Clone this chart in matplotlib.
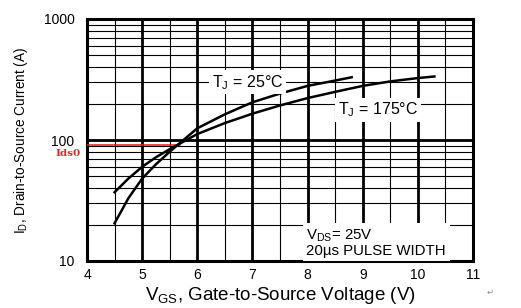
import matplotlib
matplotlib.use("Agg")
import matplotlib.pyplot as plt
import matplotlib.transforms as mtransforms
from matplotlib.ticker import FixedLocator, NullFormatter

plt.rcParams["font.family"] = ["Liberation Sans", "DejaVu Sans"]
plt.rcParams["mathtext.default"] = "regular"

# transfer characteristics
vgs_25 = [4.5, 4.75, 5.0, 5.25, 5.5, 5.75, 6.0, 6.5, 7.0, 7.5, 8.0, 8.5, 8.8]
id_25 = [20.5, 33, 48, 63, 80, 100, 125, 163, 205, 242, 280, 310, 330]
vgs_175 = [4.5, 4.75, 5.0, 5.25, 5.5, 5.75, 6.0, 6.5, 7.0, 7.5, 8.0, 8.5, 9.0, 9.5, 10.0, 10.3]
id_175 = [37, 48, 60, 72, 84, 97, 112, 138, 165, 193, 222, 250, 280, 305, 325, 335]
idsx = 91.5
vgs_cross = 5.69

x_ticks = [4, 5, 6, 7, 8, 9, 10, 11]
y_ticks = [10, 100, 1000]

fig = plt.figure(figsize=(5.21, 3.08), dpi=100)
ax = fig.add_axes([87 / 521, 1 - 261 / 308, 386 / 521, 242 / 308])

ax.set_yscale("log")
ax.set_xlim(4, 11)
ax.set_ylim(10, 1000)

ax.xaxis.set_major_locator(FixedLocator(x_ticks))
ax.xaxis.set_minor_locator(FixedLocator([x + 0.5 for x in x_ticks[:-1]]))
ax.yaxis.set_major_locator(FixedLocator(y_ticks))
ax.yaxis.set_minor_locator(FixedLocator([m * d for d in (10, 100) for m in range(2, 10)]))
ax.yaxis.set_minor_formatter(NullFormatter())
ax.set_yticklabels([str(v) for v in y_ticks])
ax.set_xticklabels([str(v) for v in x_ticks])

ax.grid(which="major", color="black", linewidth=2.0, zorder=1)
ax.grid(which="minor", color="black", linewidth=0.8, zorder=1)
ax.set_axisbelow(True)
ax.tick_params(which="both", length=0, labelsize=10)
ax.tick_params(axis="x", pad=5)
ax.tick_params(axis="y", pad=9)
for s in ax.spines.values():
    s.set_linewidth(2.2)

ax.plot(vgs_25, id_25, color="black", linewidth=1.8, zorder=4)
ax.plot(vgs_175, id_175, color="black", linewidth=1.8, zorder=4)

# Idsx marker
ax.plot([4, vgs_cross], [idsx, idsx], color="#e81818", linewidth=1.1, zorder=3)
tr = mtransforms.blended_transform_factory(ax.transAxes, ax.transData)
ax.text(-0.015, 77, "Ids0", transform=tr, ha="right", va="center",
        color="#d82828", fontsize=7.5, fontweight="bold", family="DejaVu Serif")

box = dict(facecolor="white", edgecolor="none", pad=2)
ax.text(6.27, 300, "T$_{J}$ = 25°C", fontsize=11.5, va="center", bbox=box, zorder=5)
ax.text(8.55, 178, "T$_{J}$ = 175°C", fontsize=11.5, va="center", bbox=box, zorder=5)
ax.text(7.98, 10.6, "V$_{DS}$= 25V\n20µs PULSE WIDTH", fontsize=10.8,
        va="bottom", linespacing=0.95,
        bbox=dict(facecolor="white", edgecolor="none", pad=2.5), zorder=5)

ax.set_xlabel("V$_{GS}$, Gate-to-Source Voltage (V)", fontsize=13.5, labelpad=2)
ax.set_ylabel("I$_{D}$, Drain-to-Source Current (A)", fontsize=9.8, labelpad=10)

fig.text(490 / 521, 1 - 293 / 308, "\u21b5", fontsize=6, color="#888888",
         ha="center", va="center")

fig.savefig("out.png", dpi=100)
